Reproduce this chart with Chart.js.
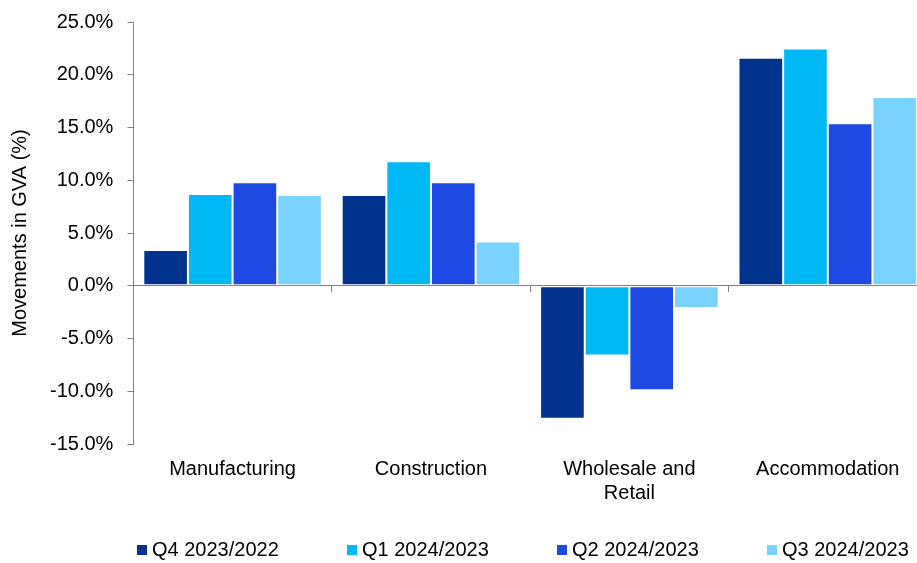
<!DOCTYPE html>
<html>
<head>
<meta charset="utf-8">
<script src="https://cdn.jsdelivr.net/npm/chart.js@4"></script>
<style>
  html, body { margin: 0; padding: 0; background: #fff; overflow: hidden; }
  #wrap { position: relative; width: 927px; height: 563px; }
  #legend { position: absolute; left: 137px; top: 538px; display: flex;
            font: 20px 'Liberation Sans', Arial, sans-serif; color: #000; }
  #legend .item { width: 210px; display: flex; align-items: center; white-space: nowrap; }
  #legend .box { width: 10px; height: 10px; margin-right: 5px; }
</style>
</head>
<body>
<div id="wrap">
  <canvas id="gva" width="927" height="563"></canvas>
  <div id="legend"></div>
</div>
<script>
// sectors on the x axis
const sectors = ['Manufacturing', 'Construction', ['Wholesale and', 'Retail'], 'Accommodation'];

// quarter-on-quarter movements in GVA (%)
const seriesNames = ['Q4 2023/2022', 'Q1 2024/2023', 'Q2 2024/2023', 'Q3 2024/2023'];
const q4_2023 = [3.4, 8.6, -12.6, 21.6];
const q1_2024 = [8.7, 11.8, -6.6, 22.5];
const q2_2024 = [9.8, 9.8, -9.9, 15.4];
const q3_2024 = [8.6, 4.2, -2.1, 17.9];
const seriesColors = ['#00338D', '#00B8F4', '#1E49E2', '#7AD3FF'];

// y axis range
const yMin = -15;
const yMax = 25;
const yStep = 5;

const FONT = "'Liberation Sans', Arial, sans-serif";
const axisGrey = '#808080';

const values = [q4_2023, q1_2024, q2_2024, q3_2024];
const datasets = values.map((v, i) => ({
  label: seriesNames[i],
  data: v,
  backgroundColor: seriesColors[i],
  borderColor: '#ffffff',
  borderWidth: 1,
  borderSkipped: false,
  categoryPercentage: 0.9,
  barPercentage: 1.0
}));

new Chart(document.getElementById('gva'), {
  type: 'bar',
  data: { labels: sectors, datasets: datasets },
  options: {
    responsive: false,
    animation: false,
    layout: { padding: { top: 21, left: 0, right: 0, bottom: 53 } },
    plugins: {
      legend: { display: false },
      tooltip: { enabled: false }
    },
    scales: {
      x: {
        offset: true,
        grid: { display: false },
        border: { display: false },
        ticks: {
          color: '#000',
          padding: 5,
          maxRotation: 0,
          autoSkip: false,
          font: { family: FONT, size: 20, lineHeight: 1.2 }
        }
      },
      // zero line with category separators
      xZero: {
        type: 'category',
        labels: sectors,
        position: { y: 0 },
        offset: true,
        grid: { offset: true, drawOnChartArea: false, drawTicks: true, tickLength: 6, color: axisGrey },
        border: { display: true, color: axisGrey, width: 1 },
        ticks: { display: false }
      },
      y: {
        min: yMin,
        max: yMax,
        ticks: {
          stepSize: yStep,
          color: '#000',
          padding: 14,
          font: { family: FONT, size: 20, lineHeight: 0.8 },
          callback: v => v.toFixed(1) + '%'
        },
        grid: { drawOnChartArea: false, drawTicks: true, tickLength: 6, color: axisGrey },
        border: { display: true, color: axisGrey, width: 1 },
        title: {
          display: true,
          text: 'Movements in GVA (%)',
          color: '#000',
          padding: { top: 8, bottom: 4 },
          font: { family: FONT, size: 20, lineHeight: 1.2 }
        }
      }
    }
  }
});

// legend row under the chart
const legend = document.getElementById('legend');
seriesNames.forEach((name, i) => {
  const item = document.createElement('div');
  item.className = 'item';
  const box = document.createElement('span');
  box.className = 'box';
  box.style.background = seriesColors[i];
  item.appendChild(box);
  item.appendChild(document.createTextNode(name));
  legend.appendChild(item);
});
</script>
</body>
</html>
